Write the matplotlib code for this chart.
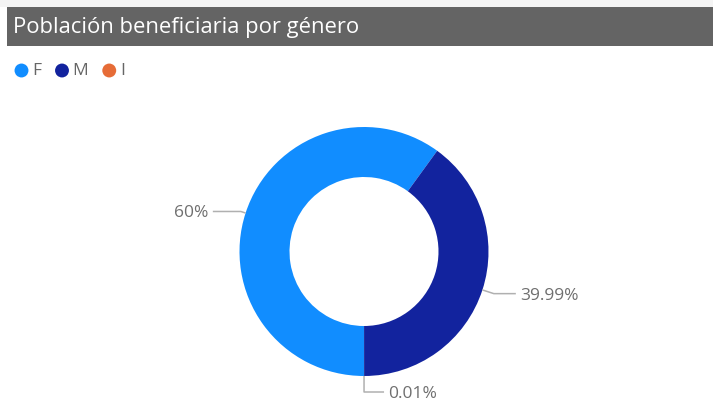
import matplotlib
matplotlib.use("Agg")
import matplotlib.pyplot as plt
import numpy as np
from matplotlib.patches import Rectangle

# data
categories = ["F", "M", "I"]
values = [60.0, 39.99, 0.01]
labels = ["60%", "39.99%", "0.01%"]
colors = ["#118DFF", "#12239E", "#E66C37"]
title = "Población beneficiaria por género"

W, H = 713, 419
plt.rcParams['font.family'] = ['Open Sans', 'DejaVu Sans']

fig = plt.figure(figsize=(W / 100, H / 100), dpi=100)
ax = fig.add_axes([0, 0, 1, 1])
ax.set_xlim(0, W)
ax.set_ylim(0, H)
ax.set_aspect("equal")
ax.axis("off")

def py(y):
    # pixel row (from top) -> data y
    return H - y

# title bar
ax.add_patch(Rectangle((0, py(7)), W, 7, color="#f4f4f4", lw=0))
ax.add_patch(Rectangle((7, py(46)), W - 7, 39, color="#646464", lw=0))
ax.text(13, py(33), title, color="white", fontsize=15.8, va="baseline", ha="left")

# legend
renderer = fig.canvas.get_renderer()
lx = 21.5
for cat, col in zip(categories, colors):
    ax.scatter([lx], [py(70.5)], s=100, color=col, edgecolors="none")
    t = ax.text(lx + 10.5, py(70.5), cat, color="#666666", fontsize=12.5,
                va="center", ha="left")
    bb = t.get_window_extent(renderer)
    lx = bb.x1 + 14 + 7

# donut
cx, cy, r = 364, py(251.5), 124.5
wedges, _ = ax.pie(values, colors=colors, startangle=-90, counterclock=False,
                   radius=r, center=(cx, cy), frame=True,
                   wedgeprops=dict(width=50, edgecolor="none", linewidth=0))

# data labels with leader lines
ext = [5, 12, 16]
horiz = [28, 22, 20]
for w, lab, e, h in zip(wedges, labels, ext, horiz):
    ang = np.deg2rad((w.theta1 + w.theta2) / 2)
    x0, y0 = cx + r * np.cos(ang), cy + r * np.sin(ang)
    x1, y1 = cx + (r + e) * np.cos(ang), cy + (r + e) * np.sin(ang)
    side = -1 if np.cos(ang) < -1e-6 else 1
    x2 = x1 + side * h
    ax.plot([x0, x1, x2], [y0, y1, y1], color="#b0b0b0", lw=1.1, solid_capstyle="butt")
    ax.text(x2 + side * 4, y1 - 2, lab, color="#6f6f6f", fontsize=12.5,
            va="center", ha="left" if side > 0 else "right")

ax.set_xlim(0, W)
ax.set_ylim(0, H)
ax.set_aspect("equal")
ax.axis("off")

fig.savefig("out.png", dpi=100, facecolor="white")
